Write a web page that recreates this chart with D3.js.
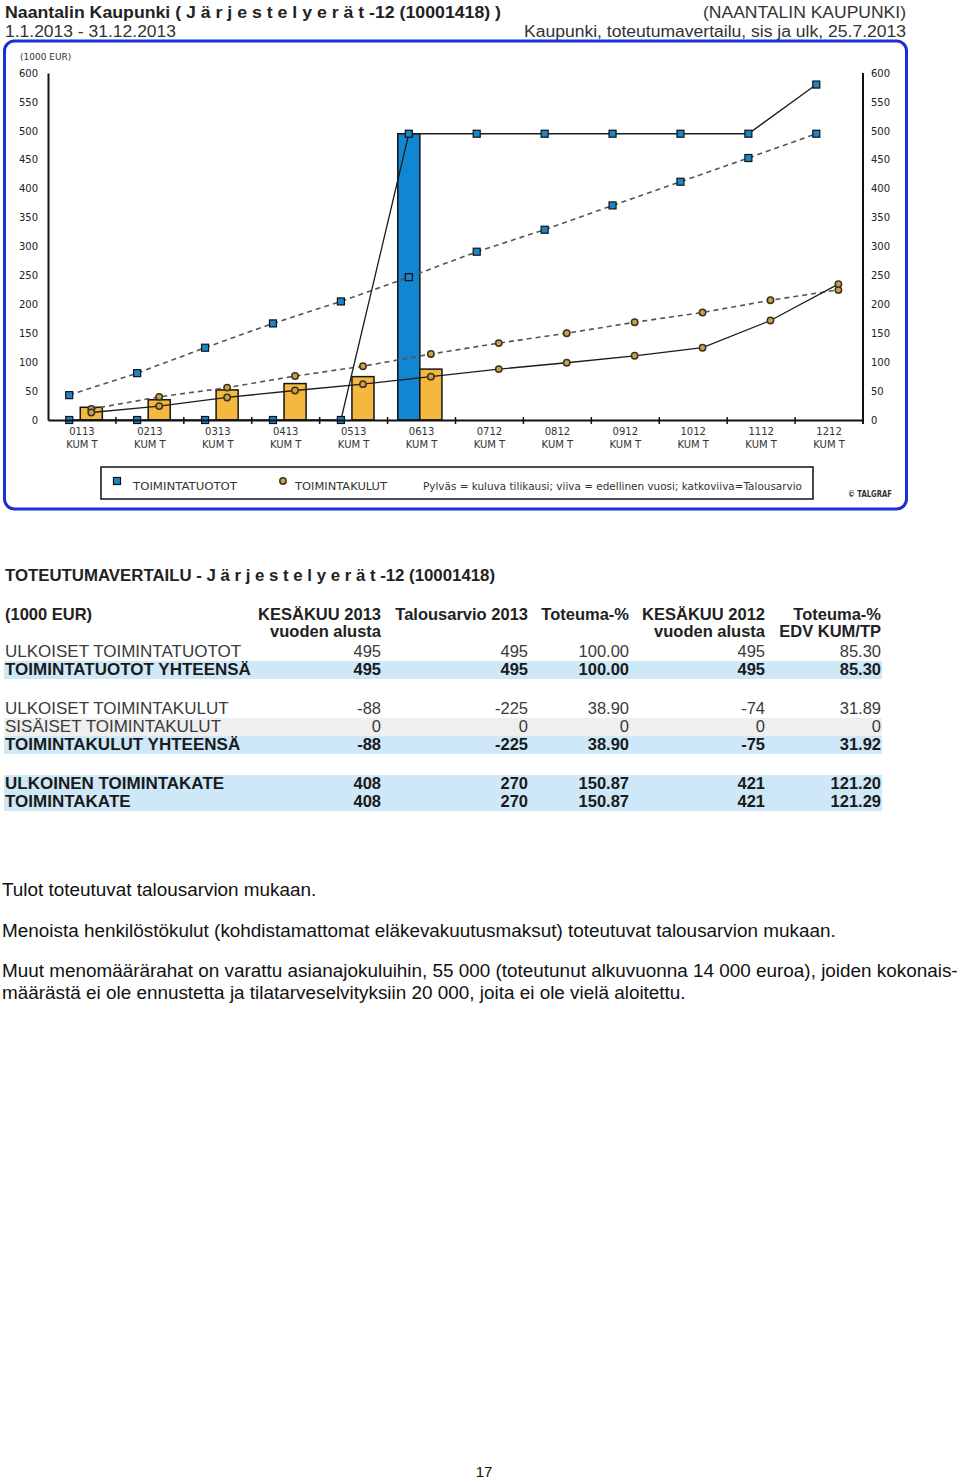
<!DOCTYPE html>
<html><head><meta charset="utf-8">
<script src="https://cdn.jsdelivr.net/npm/d3@7"></script>
<style>body{margin:0;background:#fff} svg{display:block}</style>
</head><body>
<script>
// ---------- DATA ----------
const months = ["0113","0213","0313","0413","0513","0613","0712","0812","0912","1012","1112","1212"];
const monthSub = "KUM T";
// current year (bars)
const tuototBar = [0,0,0,0,0,495,null,null,null,null,null,null];
const kulutBar  = [22,35,52,63,75,88,null,null,null,null,null,null];
// previous year (solid line)
const tuototPrev = [0,0,0,0,0,495,495,495,495,495,495,580];
const kulutPrev  = [13,24,39,51,62,75,88,99,111,125,172,235];
// budget (dashed line)
const tuototBudget = [43,81,125,167,205,247,291,329,371,412,453,495];
const kulutBudget  = [19,40,56,76,93,114,133,150,169,186,207,225];
const yTicks = [0,50,100,150,200,250,300,350,400,450,500,550,600];

// table
const tableHeads1 = ["KESÄKUU 2013","Talousarvio 2013","Toteuma-%","KESÄKUU 2012","Toteuma-%"];
const tableHeads2 = ["vuoden alusta","","","vuoden alusta","EDV KUM/TP"];
const rowLabels = ["ULKOISET TOIMINTATUOTOT","TOIMINTATUOTOT YHTEENSÄ","ULKOISET TOIMINTAKULUT","SISÄISET TOIMINTAKULUT","TOIMINTAKULUT YHTEENSÄ","ULKOINEN TOIMINTAKATE","TOIMINTAKATE"];
const rowValues = [
  ["495","495","100.00","495","85.30"],
  ["495","495","100.00","495","85.30"],
  ["-88","-225","38.90","-74","31.89"],
  ["0","0","0","0","0"],
  ["-88","-225","38.90","-75","31.92"],
  ["408","270","150.87","421","121.20"],
  ["408","270","150.87","421","121.29"]
];
const rowKind = ["plain","total","plain","gray","total","total","total"];
const rowBold = [false,true,false,false,true,true,true];
const rowBaseline = [657,675,713.5,732,750,789,807];

const paragraphs = [
  "Tulot toteutuvat talousarvion mukaan.",
  "Menoista henkilöstökulut (kohdistamattomat eläkevakuutusmaksut) toteutuvat talousarvion mukaan.",
  "Muut menomäärärahat on varattu asianajokuluihin, 55 000 (toteutunut alkuvuonna 14 000 euroa), joiden kokonais-",
  "määrästä ei ole ennustetta ja tilatarveselvityksiin 20 000, joita ei ole vielä aloitettu."
];
const paraBaseline = [896,937,977,999];

// ---------- DRAW ----------
const W = 960, H = 1480;
const svg = d3.select("body").append("svg").attr("width",W).attr("height",H);
const narrow = "'Liberation Sans Narrow','Arial Narrow','Liberation Sans',Arial,sans-serif";
const arial = "'Liberation Sans',Arial,sans-serif";
const small = "'DejaVu Sans',Verdana,sans-serif";

// headers
svg.append("text").attr("x",5).attr("y",18).attr("font-family",narrow).attr("font-weight","bold")
  .attr("font-size",16).attr("fill","#222").attr("textLength",496).attr("lengthAdjust","spacingAndGlyphs")
  .text("Naantalin Kaupunki ( J ä r j e s t e l y e r ä t  -12 (10001418) )");
svg.append("text").attr("x",5).attr("y",37).attr("font-family",narrow)
  .attr("font-size",16).attr("fill","#333").attr("textLength",171).attr("lengthAdjust","spacingAndGlyphs")
  .text("1.1.2013 - 31.12.2013");
svg.append("text").attr("x",906).attr("y",18).attr("text-anchor","end").attr("font-family",narrow)
  .attr("font-size",16).attr("fill","#333").attr("textLength",203).attr("lengthAdjust","spacingAndGlyphs")
  .text("(NAANTALIN KAUPUNKI)");
svg.append("text").attr("x",906).attr("y",37).attr("text-anchor","end").attr("font-family",narrow)
  .attr("font-size",16).attr("fill","#333").attr("textLength",382).attr("lengthAdjust","spacingAndGlyphs")
  .text("Kaupunki, toteutumavertailu, sis ja ulk, 25.7.2013");

// frame
svg.append("rect").attr("x",4.5).attr("y",41).attr("width",902).attr("height",468).attr("rx",10)
  .attr("fill","none").attr("stroke","#1a2fd6").attr("stroke-width",3);

svg.append("text").attr("x",20).attr("y",60).attr("font-family",small).attr("font-size",9)
  .attr("fill","#333").text("(1000 EUR)");

// scales
const x = d3.scaleBand().domain(months).range([48,863]).padding(0);
const y = d3.scaleLinear().domain([0,600]).range([420,73]);
const bw = x.bandwidth();
const sub = d3.scaleBand().domain(["t","k"]).range([bw*0.15, bw*0.80]).padding(0);
const cx = (m,k) => x(m) + sub(k) + sub.bandwidth()/2;

const g = svg.append("g");

// bars
const barData = [];
months.forEach((m,i)=>{
  if (tuototBar[i]) barData.push({m,k:"t",v:tuototBar[i]});
  if (kulutBar[i]) barData.push({m,k:"k",v:kulutBar[i]});
});
g.selectAll("rect.bar").data(barData).join("rect").attr("class","bar")
  .attr("x",d=>x(d.m)+sub(d.k)).attr("width",sub.bandwidth())
  .attr("y",d=>y(d.v)).attr("height",d=>y(0)-y(d.v))
  .attr("fill",d=>d.k==="t"?"#1186d3":"#f4b83f")
  .attr("stroke","#151515").attr("stroke-width",1.5);

// axes
const yl = d3.axisLeft(y).tickValues(yTicks).tickSize(0).tickPadding(10);
const yr = d3.axisRight(y).tickValues(yTicks).tickSize(0).tickPadding(8);
const gl = svg.append("g").attr("transform","translate(48,0)").call(yl);
const gr = svg.append("g").attr("transform","translate(863,0)").call(yr);
[gl,gr].forEach(a=>{
  a.select(".domain").attr("stroke","#111").attr("stroke-width",2);
  a.selectAll("text").attr("font-family",small).attr("font-size",10).attr("fill","#222");
});
gr.select(".domain").attr("d","M0,73V424");

const xa = d3.axisBottom(x).tickSize(0).tickPadding(8);
const gx = svg.append("g").attr("transform","translate(0,420)").call(xa);
gx.select(".domain").attr("stroke","#111").attr("stroke-width",2);
gx.selectAll(".tick text").attr("font-family",small).attr("font-size",10).attr("fill","#333")
  .each(function(d){
    const t = d3.select(this); t.text(null);
    t.append("tspan").attr("x",0).attr("dy","0.71em").text(d);
    t.append("tspan").attr("x",0).attr("dy","1.3em").text(monthSub);
  });
// boundary tick marks
gx.selectAll("line.bt").data(months.slice(1)).join("line").attr("class","bt")
  .attr("x1",d=>x(d)).attr("x2",d=>x(d)).attr("y1",-3).attr("y2",4)
  .attr("stroke","#111").attr("stroke-width",1.5);

// lines
const lineGen = (key) => d3.line().defined(d=>d!=null).x((d,i)=>cx(months[i],key)).y(d=>y(d));
const series = [
  {vals:tuototBudget,k:"t",dash:true},
  {vals:kulutBudget,k:"k",dash:true},
  {vals:tuototPrev,k:"t",dash:false},
  {vals:kulutPrev,k:"k",dash:false}
];
series.forEach(s=>{
  g.append("path").datum(s.vals).attr("d",lineGen(s.k)).attr("fill","none")
    .attr("stroke",s.dash?"#555":"#1c1c1c").attr("stroke-width",s.dash?1.6:1.3)
    .attr("stroke-dasharray",s.dash?"5,4":null);
});
// markers
series.forEach(s=>{
  if (s.k==="t") {
    g.selectAll(null).data(s.vals).join("rect")
      .attr("x",(d,i)=>cx(months[i],"t")-3.5).attr("y",d=>y(d)-3.5)
      .attr("width",7).attr("height",7).attr("fill","#1a86c6").attr("stroke","#111").attr("stroke-width",1.2);
  } else {
    g.selectAll(null).data(s.vals).join("circle")
      .attr("cx",(d,i)=>cx(months[i],"k")).attr("cy",d=>y(d)).attr("r",3.2)
      .attr("fill","#c9a244").attr("stroke","#3a3325").attr("stroke-width",1.5);
  }
});

// legend
svg.append("rect").attr("x",101).attr("y",467).attr("width",712).attr("height",32)
  .attr("fill","none").attr("stroke","#111").attr("stroke-width",1.5);
svg.append("rect").attr("x",113.5).attr("y",477.5).attr("width",7).attr("height",7)
  .attr("fill","#1a86c6").attr("stroke","#111").attr("stroke-width",1.2);
svg.append("circle").attr("cx",283).attr("cy",481).attr("r",3.2)
  .attr("fill","#c9a244").attr("stroke","#3a3325").attr("stroke-width",1.5);
const legT = [
  {x:133,t:"TOIMINTATUOTOT",w:104},
  {x:295,t:"TOIMINTAKULUT",w:92},
  {x:423,t:"Pylväs = kuluva tilikausi; viiva = edellinen vuosi; katkoviiva=Talousarvio",w:379}
];
legT.forEach(l=>svg.append("text").attr("x",l.x).attr("y",490).attr("font-family",small).attr("font-size",10)
  .attr("fill","#333").attr("textLength",l.w).attr("lengthAdjust","spacingAndGlyphs").text(l.t));
svg.append("text").attr("x",848).attr("y",497).attr("font-family",small).attr("font-size",9).attr("font-weight","bold")
  .attr("fill","#333").attr("textLength",44).attr("lengthAdjust","spacingAndGlyphs").text("© TALGRAF");

// ---------- TABLE ----------
const colRight = [381,528,629,765,881];
svg.append("text").attr("x",5).attr("y",581).attr("font-family",arial).attr("font-weight","bold")
  .attr("font-size",16).attr("fill","#222").attr("textLength",490).attr("lengthAdjust","spacingAndGlyphs")
  .text("TOTEUTUMAVERTAILU - J ä r j e s t e l y e r ä t  -12 (10001418)");
svg.append("text").attr("x",5).attr("y",620).attr("font-family",arial).attr("font-weight","bold")
  .attr("font-size",16.5).attr("fill","#222").text("(1000 EUR)");
tableHeads1.forEach((h,i)=>svg.append("text").attr("x",colRight[i]).attr("y",620).attr("text-anchor","end")
  .attr("font-family",arial).attr("font-weight","bold").attr("font-size",16.5).attr("fill","#222").text(h));
tableHeads2.forEach((h,i)=>{ if(h) svg.append("text").attr("x",colRight[i]).attr("y",637).attr("text-anchor","end")
  .attr("font-family",arial).attr("font-weight","bold").attr("font-size",16.5).attr("fill","#222").text(h);});

rowLabels.forEach((lab,i)=>{
  const b = rowBaseline[i];
  if (rowKind[i]!=="plain") {
    svg.append("rect").attr("x",4).attr("y",b-14).attr("width",878).attr("height",18)
      .attr("fill",rowKind[i]==="gray"?"#efefef":"#cfe8f8");
  }
});
rowLabels.forEach((lab,i)=>{
  const b = rowBaseline[i];
  const fw = rowBold[i]?"bold":"normal", col = rowBold[i]?"#1a1a1a":"#3a3a3a";
  svg.append("text").attr("x",5).attr("y",b).attr("font-family",arial).attr("font-weight",fw)
    .attr("font-size",17).attr("fill",col).text(lab);
  rowValues[i].forEach((v,j)=>svg.append("text").attr("x",colRight[j]).attr("y",b).attr("text-anchor","end")
    .attr("font-family",arial).attr("font-weight",fw).attr("font-size",16.5).attr("fill",col).text(v));
});

// paragraphs
paragraphs.forEach((p,i)=>svg.append("text").attr("x",2).attr("y",paraBaseline[i]).attr("font-family",arial)
  .attr("font-size",18.9).attr("fill","#111").text(p));
svg.append("text").attr("x",484).attr("y",1477).attr("text-anchor","middle").attr("font-family",arial)
  .attr("font-size",15).attr("fill","#111").text("17");
</script>
</body></html>
